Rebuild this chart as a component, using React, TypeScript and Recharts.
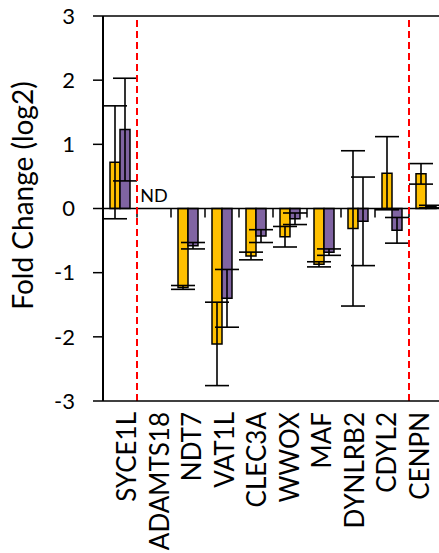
import React from 'react';
import { BarChart, Bar, XAxis, YAxis, ErrorBar, ReferenceLine, ReferenceDot, Label } from 'recharts';

const categories = ['SYCE1L', 'ADAMTS18', 'NDT7', 'VAT1L', 'CLEC3A', 'WWOX', 'MAF', 'DYNLRB2', 'CDYL2', 'CENPN'];
const seriesA = [0.72, null, -1.23, -2.11, -0.74, -0.44, -0.87, -0.31, 0.55, 0.54];
const errorA = [0.88, null, 0.03, 0.65, 0.06, 0.16, 0.04, 1.21, 0.57, 0.16];
const seriesB = [1.23, null, -0.58, -1.4, -0.43, -0.16, -0.68, -0.2, -0.34, 0.03];
const errorB = [0.8, null, 0.05, 0.45, 0.1, 0.09, 0.05, 0.69, 0.2, 0.02];
const yTicks = [-3, -2, -1, 0, 1, 2, 3];

const FONT = 'Lato, "Open Sans", sans-serif';

const chartData = categories.map((name, i) => ({
  name,
  a: seriesA[i],
  errA: errorA[i],
  b: seriesB[i],
  errB: errorB[i],
}));

// labels in the original sit a little tighter than the bars, so drift them left
const CategoryTick = (props: any) => {
  const { x, y, payload, index } = props;
  const shift = 16 - index * 1.45;
  return (
    <text
      transform={`translate(${x + shift},${y + 11}) rotate(-90)`}
      textAnchor="end"
      fontSize={26}
      fontFamily={FONT}
      fill="#000"
    >
      {payload.value}
    </text>
  );
};

const YTitle = (props: any) => {
  const { viewBox } = props;
  const cy = viewBox.y + viewBox.height / 2 - 13;
  return (
    <text
      transform={`translate(33,${cy}) rotate(-90)`}
      textAnchor="middle"
      fontSize={28}
      fontFamily={FONT}
      fill="#000"
    >
      Fold Change (log2)
    </text>
  );
};

const App: React.FC = () => {
  return (
    <div style={{ position: 'absolute', left: 0, top: 0, width: 439, height: 553, overflow: 'hidden', background: '#fff' }}>
      <BarChart
        width={443}
        height={553}
        data={chartData}
        margin={{ top: 16, right: 0, bottom: 0, left: 0 }}
        barCategoryGap={7}
        barGap={0}
      >
        <XAxis
          dataKey="name"
          height={152}
          interval={0}
          tickLine={false}
          tickSize={0}
          tickMargin={0}
          axisLine={{ stroke: '#000', strokeWidth: 1.5 }}
          tick={<CategoryTick />}
        />
        <YAxis
          width={103}
          domain={[-3, 3]}
          ticks={yTicks}
          interval={0}
          tickSize={10}
          tickMargin={18}
          axisLine={{ stroke: '#000', strokeWidth: 2 }}
          tickLine={{ stroke: '#000', strokeWidth: 1.5 }}
          tick={{ fontSize: 22, fontFamily: FONT, fill: '#000' }}
        >
          <Label content={<YTitle />} />
        </YAxis>

        <ReferenceLine y={3} stroke="#000" strokeWidth={1.5} />
        <ReferenceLine y={0} stroke="#000" strokeWidth={1.5} />
        {categories.map((c) => (
          <ReferenceLine
            key={c}
            segment={[{ x: c, y: 0 }, { x: c, y: -0.14 }]}
            position="start"
            stroke="#000"
            strokeWidth={1.5}
          />
        ))}

        <Bar dataKey="a" fill="#FFC000" stroke="#000" strokeWidth={1.5} isAnimationActive={false}>
          <ErrorBar dataKey="errA" direction="y" width={12} stroke="#000" strokeWidth={1.6} />
        </Bar>
        <Bar dataKey="b" fill="#8064A2" stroke="#000" strokeWidth={1.5} isAnimationActive={false}>
          <ErrorBar dataKey="errB" direction="y" width={12} stroke="#000" strokeWidth={1.6} />
        </Bar>

        <ReferenceLine x="ADAMTS18" position="start" stroke="#FF0000" strokeWidth={2} strokeDasharray="7 4" />
        <ReferenceLine x="CENPN" position="start" stroke="#FF0000" strokeWidth={2} strokeDasharray="7 4" />
        <ReferenceDot
          x="ADAMTS18"
          y={0}
          r={0}
          fill="none"
          stroke="none"
          label={{ value: 'ND', position: 'top', offset: 7, fontSize: 18, fontFamily: FONT, fill: '#000' }}
        />
      </BarChart>
    </div>
  );
};

export default App;
